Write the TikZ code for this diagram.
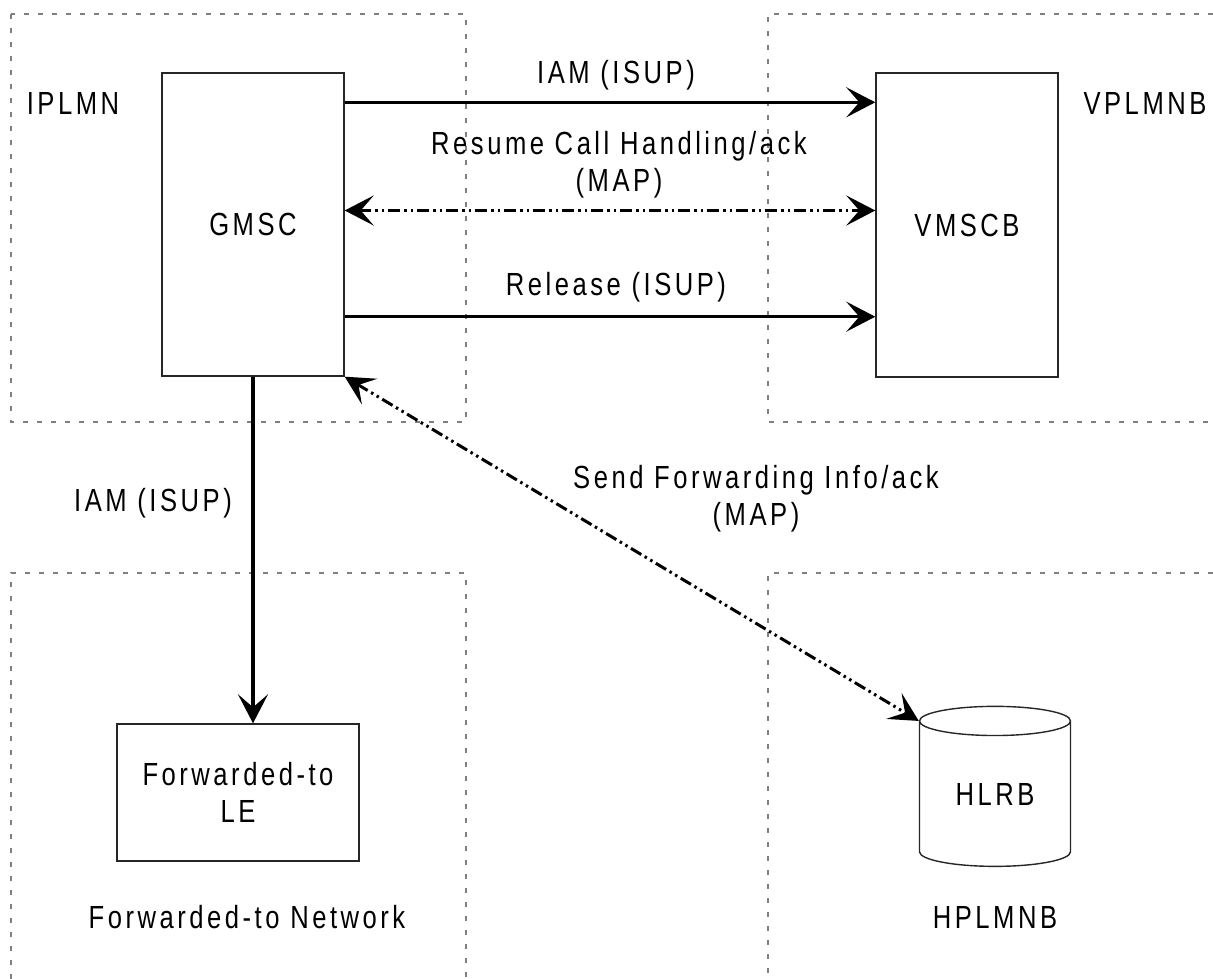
\documentclass[tikz,border=0pt]{standalone}
\usepackage{fontspec}
\setmainfont{Liberation Sans}[FakeStretch=0.8,LetterSpace=11]
\usepackage{tikz}
\usetikzlibrary{arrows.meta,shapes.geometric,positioning,calc}
\tikzstyle{l1}=[line width=3.5]
\tikzstyle{l2}=[line width=1.4]
\tikzstyle{entity}=[rectangle, draw=black!85, l2, align=center, inner sep=0pt]
\tikzstyle{store}=[cylinder, shape border rotate=90, draw=black!85, l2, shape aspect=0.37, minimum width=151, minimum height=160, inner sep=0pt]
\tikzstyle{net}=[line width=1.3, color=black!50, dash pattern=on 5pt off 9pt]
\tikzset{
    isup/.style={l1, -{Stealth[length=29pt, width=30pt, inset=13pt]}},
    map/.style={line width=3, dash pattern=on 12pt off 4pt on 2.5pt off 4pt on 2.5pt off 4pt,
        {Stealth[length=29pt, width=30pt, inset=13pt]}-{Stealth[length=29pt, width=30pt, inset=13pt]}}
}

\begin{document}
\begin{tikzpicture}[x=1pt, y=-1pt, font=\fontsize{32}{37}\selectfont]
    \useasboundingbox (0,0) rectangle (1213,979);

    % network areas
    \draw[net] (11,14) rectangle (466,422);
    \draw[net] (1213,14) -- (768,14) -- (768,422) -- (1213,422);
    \draw[net] (11,979) -- (11,573) -- (466,573) -- (466,979);
    \draw[net] (1213,573) -- (768,573) -- (768,979);

    \node (iplmn) at (73,103) {IPLMN};
    \node (vplmnb) at (1145,103) {VPLMNB};
    \node (fwdnet) at (247,917) {Forwarded-to Network};
    \node (hplmnb) at (995,917) {HPLMNB};

    % entities
    \node (gmsc) [entity, minimum width=182, minimum height=303] at (253,224.5) {GMSC};
    \node (vmscb) [entity, minimum width=182, minimum height=304] at (967,225) {VMSCB};
    \node (le) [entity, minimum width=242, minimum height=137] at (238,792.5) {Forwarded-to\\LE};
    \node (hlrb) [store] at (995,794) {HLRB};

    % signalling
    \draw[isup] ([yshift=-30]gmsc.north east) -- ([yshift=-30]gmsc.north east -| vmscb.west);
    \draw[map] ([yshift=14]gmsc.east) -- ([yshift=14]gmsc.east -| vmscb.west);
    \draw[isup] ([yshift=60]gmsc.south east) -- ([yshift=60]gmsc.south east -| vmscb.west);
    \draw[isup] (gmsc.south) -- (gmsc.south |- le.north);
    \draw[map] (gmsc.south east) -- (hlrb.before top);

    \node (iam1) at (616,75) {IAM (ISUP)};
    \node (resume) [align=center] at (619,165) {Resume Call Handling/ack\\(MAP)};
    \node (rel) at (616,287) {Release (ISUP)};
    \node (iam2) at (153,503) {IAM (ISUP)};
    \node (sfi) [align=center] at (756,499) {Send Forwarding Info/ack\\(MAP)};

\end{tikzpicture}
\end{document}
